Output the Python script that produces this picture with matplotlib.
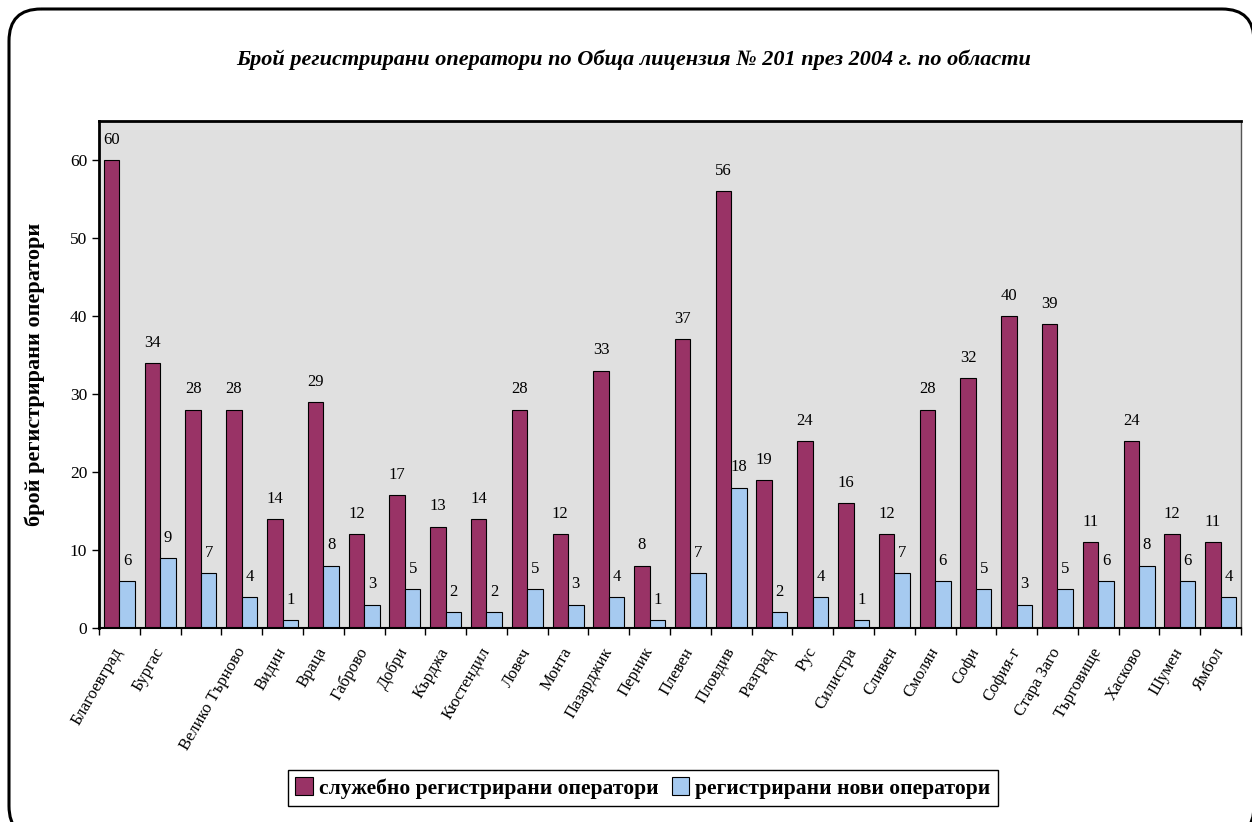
import matplotlib.pyplot as plt
from matplotlib.path import Path
import matplotlib.patches as mpatches
import numpy as np

# tick labels as they show in the reference (Excel clipped some of them)
regions = ["Благоевград", "Бургас", "", "Велико Търново", "Видин", "Враца",
           "Габрово", "Добри", "Кърджа", "Кюстендил", "Ловеч", "Монта",
           "Пазарджик", "Перник", "Плевен", "Пловдив", "Разград", "Рус",
           "Силистра", "Сливен", "Смолян", "Софи", "София-г", "Стара Заго",
           "Търговище", "Хасково", "Шумен", "Ямбол"]
official = [60, 34, 28, 28, 14, 29, 12, 17, 13, 14, 28, 12, 33, 8,
            37, 56, 19, 24, 16, 12, 28, 32, 40, 39, 11, 24, 12, 11]
new_ops = [6, 9, 7, 4, 1, 8, 3, 5, 2, 2, 5, 3, 4, 1,
           7, 18, 2, 4, 1, 7, 6, 5, 3, 5, 6, 8, 6, 4]

title = "Брой регистрирани оператори по Обща лицензия № 201 през 2004 г. по области"
ylabel = "брой регистрирани оператори"
series_names = ["служебно регистрирани оператори", "регистрирани нови оператори"]

MAROON = "#993366"
BLUE = "#A6CAF0"
SERIF = "Liberation Serif"

plt.rcParams['font.family'] = [SERIF, 'DejaVu Serif']

fig = plt.figure(figsize=(12.52, 8.22), dpi=100)
W, H = 1252, 822


def rounded_rect(x0, y0, x1, y1, r):
    # pixel coords, y from the top
    verts = [(x0 + r, y0), (x1 - r, y0), (x1, y0), (x1, y0 + r),
             (x1, y1 - r), (x1, y1), (x1 - r, y1),
             (x0 + r, y1), (x0, y1), (x0, y1 - r),
             (x0, y0 + r), (x0, y0), (x0 + r, y0)]
    codes = [Path.MOVETO, Path.LINETO, Path.CURVE3, Path.CURVE3,
             Path.LINETO, Path.CURVE3, Path.CURVE3,
             Path.LINETO, Path.CURVE3, Path.CURVE3,
             Path.LINETO, Path.CURVE3, Path.CURVE3]
    verts = [(vx / W, 1 - vy / H) for vx, vy in verts]
    return Path(verts, codes)


# near-transparent face (not zero) so agg does not clip the curves at the canvas edge
frame = mpatches.PathPatch(rounded_rect(9, 9, 1254, 838, 32), transform=fig.transFigure,
                           facecolor=(1, 1, 1, 0.01), edgecolor="black", linewidth=2.2,
                           zorder=-1)
fig.patches.append(frame)

ax = fig.add_axes([99 / W, 1 - 628 / H, (1241 - 99) / W, (628 - 121) / H])
ax.set_facecolor("#E0E0E0")

x = np.arange(len(regions))
w = 0.38
b1 = ax.bar(x - w / 2, official, w, color=MAROON, edgecolor="black", linewidth=0.8,
            label=series_names[0])
b2 = ax.bar(x + w / 2, new_ops, w, color=BLUE, edgecolor="black", linewidth=0.8,
            label=series_names[1])

for bars in (b1, b2):
    for r in bars:
        ax.annotate(f"{int(r.get_height())}", (r.get_x() + r.get_width() / 2, r.get_height()),
                    xytext=(0, 14.5), textcoords="offset points", ha="center", va="center",
                    fontsize=12)

ax.set_xlim(-0.5, len(regions) - 0.5)
ax.set_ylim(0, 65)
ax.set_yticks(range(0, 61, 10))
ax.tick_params(axis="y", labelsize=12.5, length=5, width=1)

ax.set_xticks(np.arange(len(regions) + 1) - 0.5)
ax.set_xticklabels([])
ax.tick_params(axis="x", which="major", length=5, width=1)
ax.set_xticks(x, minor=True)
ax.set_xticklabels(regions, minor=True, rotation=60, ha="right", va="center",
                   rotation_mode="anchor", fontsize=12)
ax.tick_params(axis="x", which="minor", length=0, pad=15)

ax.spines["left"].set_linewidth(2)
ax.spines["bottom"].set_linewidth(1.5)
ax.spines["top"].set_linewidth(2)
ax.spines["right"].set_color("#555555")
ax.spines["right"].set_linewidth(1)

ax.set_ylabel(ylabel, fontsize=16, fontweight="bold")
ax.yaxis.set_label_coords(-0.047, 0.5)

fig.text(634 / W, 1 - 60 / H, title, ha="center", va="center", fontsize=16,
         fontweight="bold", fontstyle="italic")

leg = fig.legend(handles=[b1, b2], loc="center", bbox_to_anchor=(643 / W, 1 - 788 / H),
                 ncol=2, fancybox=False, edgecolor="black", framealpha=1,
                 handlelength=0.8, handleheight=0.9, handletextpad=0.3,
                 columnspacing=0.6, borderpad=0.35,
                 prop={"family": SERIF, "weight": "bold", "size": 15.5})
leg.get_frame().set_linewidth(1)

fig.savefig("out.png", dpi=100)
